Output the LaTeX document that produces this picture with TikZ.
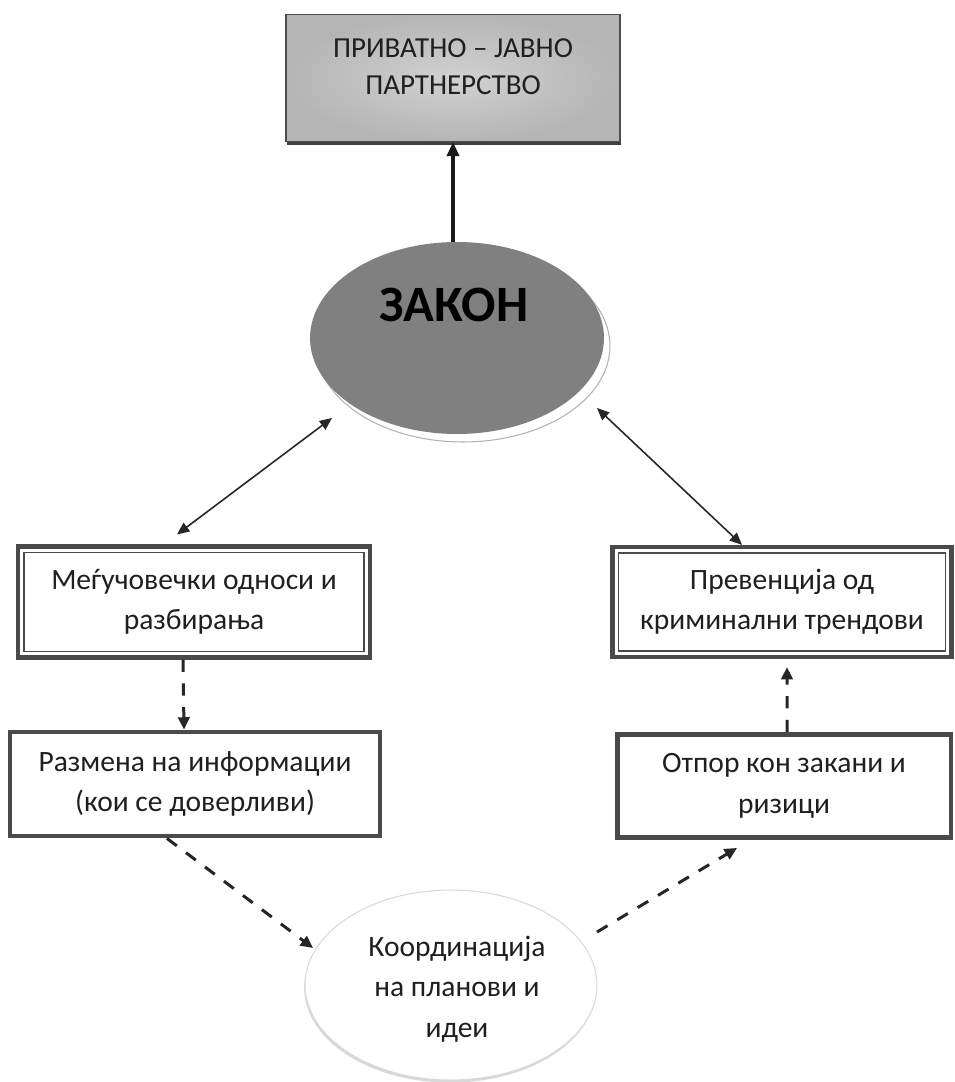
\documentclass[tikz,border=0pt]{standalone}
\usepackage{fontspec}
\setmainfont{Carlito}
\usetikzlibrary{arrows.meta,shapes.geometric,shadows}
\definecolor{zkgray}{HTML}{808080}
\definecolor{zkborder}{HTML}{4A4A4A}

\begin{document}
\begin{tikzpicture}[x=0.02cm, y=-0.02cm,
    every node/.style={font=\fontsize{16.8}{23}\selectfont, align=center, text=black!88},
    dblbox/.style={rectangle, draw=zkborder, line width=2.4pt, fill=white, inner sep=0pt},
    thickbox/.style={rectangle, draw=zkborder, line width=2.8pt, fill=white, inner sep=0pt},
    twoway/.style={{Triangle[length=7pt,width=6pt]}-{Triangle[length=7pt,width=6pt]}, line width=0.9pt, black!85},
    uparrow/.style={-{Triangle[length=8pt,width=7pt]}, line width=1.8pt, black!90},
    dasharrow/.style={-{Triangle[length=7pt,width=6.5pt]}, line width=1.7pt, dash pattern=on 7pt off 6.5pt, black!85}]
    \useasboundingbox (0,0) rectangle (954,1082);

    % Partnership box
    \node[rectangle, draw=black!70, line width=0.8pt, inner color=gray!36, outer color=gray!58, minimum width=6.68cm, minimum height=2.54cm,
          drop shadow={shadow xshift=0.6pt, shadow yshift=-2pt, fill=black!75, opacity=1},
          font=\fontsize{16.5}{21.5}\selectfont, text depth=13pt] (ppp) at (453,78) {ПРИВАТНО – ЈАВНО\\ПАРТНЕРСТВО};

    % Law ellipse with its light rim
    \node[ellipse, draw=gray!60, line width=0.6pt, fill=white, minimum width=5.88cm, minimum height=3.84cm, inner sep=0pt] (halo) at (463,346) {};
    \node[ellipse, fill=zkgray, minimum width=5.88cm, minimum height=3.84cm, inner sep=0pt] (zakon) at (457,338) {};
    \node[font=\fontsize{29}{31}\selectfont\bfseries, text=black] (zakontxt) at (454,305) {ЗАКОН};

    % Left column
    \node[dblbox, minimum width=7.04cm, minimum height=2.22cm] (mej) at (194,602) {Меѓучовечки односи и\\разбирања};
    \draw[zkborder, line width=0.8pt] ([shift={(0.16cm,-0.16cm)}]mej.north west) rectangle ([shift={(-0.16cm,0.16cm)}]mej.south east);
    \node[thickbox, minimum width=7.4cm, minimum height=2.08cm] (razmena) at (195,784) {Размена на информации\\(кои се доверливи)};

    % Right column
    \node[dblbox, minimum width=6.78cm, minimum height=2.2cm] (prev) at (782,602) {Превенција од\\криминални трендови};
    \draw[zkborder, line width=0.8pt] ([shift={(0.16cm,-0.16cm)}]prev.north west) rectangle ([shift={(-0.16cm,0.16cm)}]prev.south east);
    \node[thickbox, minimum width=6.68cm, minimum height=2.06cm] (otpor) at (784,786) {Отпор кон закани и\\ризици};

    % Coordination ellipse
    \node[ellipse, draw=gray!30, line width=0.6pt, fill=white, minimum width=5.84cm, minimum height=3.8cm, inner sep=0pt,
          drop shadow={shadow xshift=-0.5pt, shadow yshift=-1.5pt, fill=gray!50, opacity=0.6}] (koord) at (451,985) {};
    \node (koordtxt) at (457,989) {Координација\\на планови и\\идеи};

    % Arrows
    \draw[uparrow] (ppp.south |- zakon.north) -- (ppp.south);
    \draw[twoway] ([xshift=-0.34cm,yshift=0.2cm]mej.north) -- ([xshift=-2.5cm,yshift=-1.6cm]zakon.center);
    \draw[twoway] ([xshift=2.8cm,yshift=-1.4cm]zakon.center) -- ([xshift=-0.8cm]prev.north);
    \draw[dasharrow] ([xshift=-0.22cm]mej.south) -- ([xshift=-0.22cm]razmena.north);
    \draw[dasharrow] ([xshift=-0.56cm]razmena.south) -- ([xshift=-2.76cm,yshift=0.74cm]koord.center);
    \draw[dasharrow] ([xshift=2.92cm,yshift=1.06cm]koord.center) -- ([xshift=-0.94cm,yshift=-0.16cm]otpor.south);
    \draw[dasharrow] ([xshift=0.06cm]otpor.north) -- ([xshift=0.1cm,yshift=-0.16cm]prev.south);
\end{tikzpicture}
\end{document}
